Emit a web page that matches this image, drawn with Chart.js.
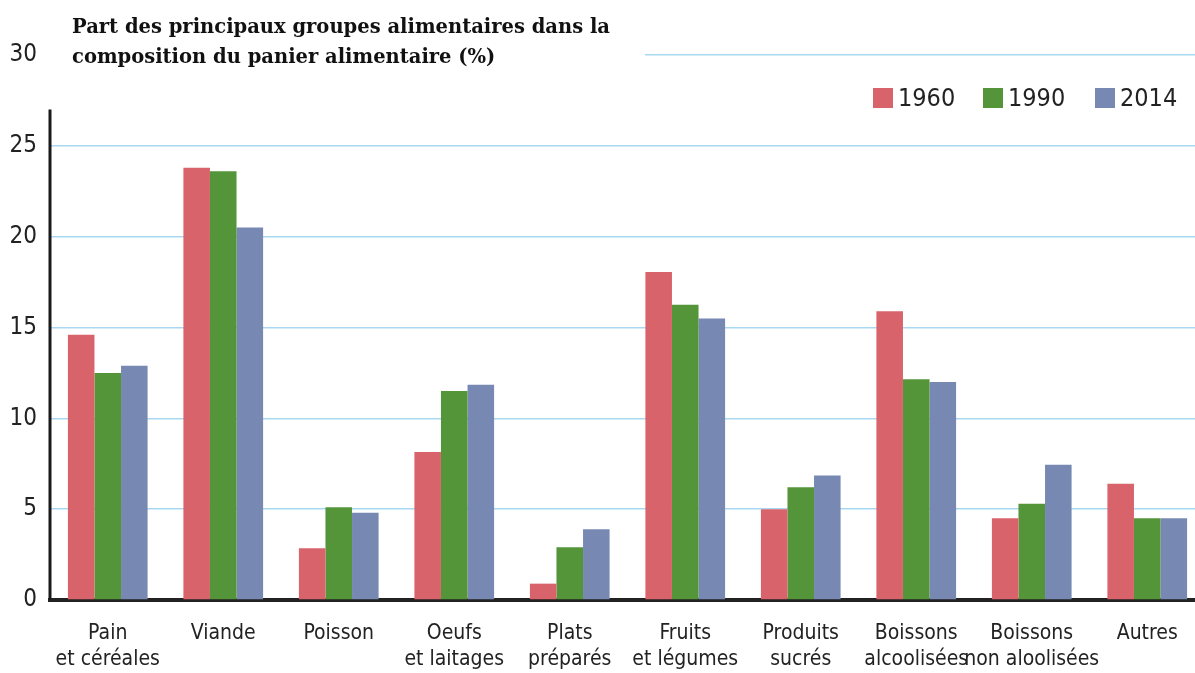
<!DOCTYPE html>
<html>
<head>
<meta charset="utf-8">
<script src="https://cdn.jsdelivr.net/npm/chart.js@4.4.1/dist/chart.umd.min.js"></script>
<style>
  html, body { margin: 0; padding: 0; background: #fff; overflow: hidden; }
  #wrap { width: 1205px; height: 673px; }
</style>
</head>
<body>
<div id="wrap"><canvas id="chart" width="1205" height="673"></canvas></div>
<script>
// categories and values
const categories = [
    ['Pain', 'et céréales'], 'Viande', 'Poisson', ['Oeufs', 'et laitages'], ['Plats', 'préparés'],
    ['Fruits', 'et légumes'], ['Produits', 'sucrés'], ['Boissons', 'alcoolisées'],
    ['Boissons', 'non aloolisées'], 'Autres'
];
const years = ['1960', '1990', '2014'];
const v1960 = [14.6, 23.8, 2.85, 8.15, 0.9, 18.05, 5.0, 15.9, 4.5, 6.4];
const v1990 = [12.5, 23.6, 5.1, 11.5, 2.9, 16.25, 6.2, 12.15, 5.3, 4.5];
const v2014 = [12.9, 20.5, 4.8, 11.85, 3.9, 15.5, 6.85, 12.0, 7.45, 4.5];
const yTicks = [0, 5, 10, 15, 20, 25, 30];
const titleLines = ['Part des principaux groupes alimentaires dans la', 'composition du panier alimentaire (%)'];

const colors = ['#d9636b', '#55953a', '#7789b3'];
const tickFont = "'Liberation Sans Narrow', 'Arial Narrow', 'DejaVu Sans Condensed', sans-serif";

const ctx = document.querySelector('#chart');

// title box, partial y axis line and legend
const extras = {
    id: 'extras',
    afterDraw(chart) {
        const c = chart.ctx;
        const y = chart.scales.y;
        c.save();
        // title covers the 30 gridline
        c.fillStyle = '#fff';
        c.fillRect(45, 0, 600, 80);
        c.fillStyle = '#111';
        c.font = "bold 20px 'DejaVu Serif', serif";
        c.textBaseline = 'alphabetic';
        // squeeze to the width of the original
        let k = 538 / c.measureText(titleLines[0]).width;
        c.save();
        c.translate(72, 0);
        c.scale(k, 1);
        c.fillText(titleLines[0], 0, 33);
        c.fillText(titleLines[1], 0, 63);
        c.restore();

        // y axis line (stops below the top)
        c.strokeStyle = '#1a1a1a';
        c.lineWidth = 3;
        c.beginPath();
        c.moveTo(50, y.getPixelForValue(27));
        c.lineTo(50, y.getPixelForValue(0));
        c.stroke();

        // legend
        const xs = [873, 983, 1095];
        c.font = '25px ' + tickFont;
        c.textBaseline = 'middle';
        chart.data.datasets.forEach((ds, i) => {
            c.fillStyle = ds.backgroundColor;
            c.fillRect(xs[i], 88, 20, 20);
            c.fillStyle = '#222';
            c.fillText(ds.label, xs[i] + 25, 99);
        });
        c.restore();
    }
};

let chart = new Chart(ctx, {
    type: 'bar',
    data: {
        labels: categories,
        datasets: [
            { label: years[0], data: v1960, backgroundColor: colors[0] },
            { label: years[1], data: v1990, backgroundColor: colors[1] },
            { label: years[2], data: v2014, backgroundColor: colors[2] }
        ]
    },
    options: {
        responsive: false,
        animation: false,
        layout: { padding: { top: 55, left: 0, right: 0, bottom: 0 } },
        datasets: {
            bar: { categoryPercentage: 0.69, barPercentage: 1.0, borderWidth: 0 }
        },
        plugins: {
            legend: { display: false },
            title: { display: false },
            tooltip: { enabled: false }
        },
        scales: {
            x: {
                grid: { display: false, drawTicks: false },
                border: { display: true, color: '#222', width: 4 },
                ticks: {
                    color: '#222',
                    font: { family: tickFont, size: 21, lineHeight: 1.25 },
                    padding: 20,
                    maxRotation: 0,
                    autoSkip: false
                },
                afterFit: (scale) => { scale.height = 73; }
            },
            y: {
                min: 0,
                max: 30,
                afterBuildTicks: (scale) => { scale.ticks = yTicks.map(v => ({ value: v })); },
                grid: { color: '#a9d8f2', lineWidth: 1.5, drawTicks: false },
                border: { display: false },
                ticks: {
                    color: '#222',
                    font: { family: tickFont, size: 24 },
                    padding: 13
                },
                afterFit: (scale) => { scale.width = 50; }
            }
        }
    },
    plugins: [extras]
});
</script>
</body>
</html>
